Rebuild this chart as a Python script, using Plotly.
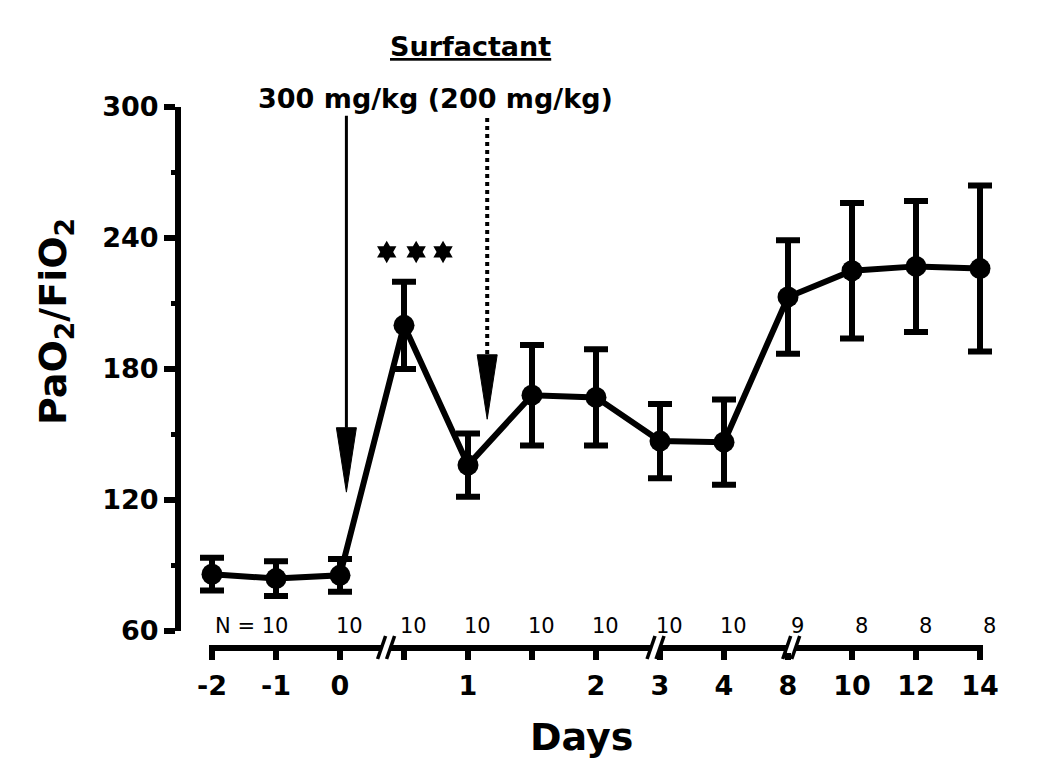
import plotly.graph_objects as go

# ---------------- data ----------------
tick_labels = ["-2", "-1", "0", "", "1", "", "2", "3", "4", "8", "10", "12", "14"]
pao2_fio2 = [86, 84, 85.5, 200, 136, 168, 167, 147, 146.5, 213, 225, 227, 226]
sem = [7.5, 8, 7.5, 20, 14.5, 23, 22, 17, 19.5, 26, 31, 30, 38]
n_labels = ["N = 10", "10", "10", "10", "10", "10", "10", "10", "9", "8", "8", "8"]
n_label_pos = [1, 2, 3, 4, 5, 6, 7, 8, 9, 10, 11, 12]
break_pos = [2.72, 6.93, 9.05]
star_x = [2.73, 3.19, 3.61]
star_y = [233.6, 233.6, 233.6]
arrow_x = [2.1, 4.3]
arrow_top = [296, 295]
arrow_tip = [123.6, 157]
arrow_dash = ["solid", "dot"]

x_idx = list(range(len(tick_labels)))

FONT = "DejaVu Sans"
OFF = 8  # page body margin
W, H = 1037, 773
ML, MR, MT, MB = 170, 35, 99, 133
PW = W - ML - MR
PH = H - MT - MB
PX = 64.0  # pixels per x index
X0 = -(212 - OFF - ML) / PX


def py(px):  # reference pixel y -> paper y
    return (H - MB - (px - OFF)) / PH


def pxx(px):  # reference pixel x -> paper x
    return (px - OFF - ML) / PW


fig = go.Figure()

fig.add_trace(go.Scatter(
    x=x_idx, y=pao2_fio2,
    mode="lines+markers",
    line=dict(color="black", width=6),
    marker=dict(color="black", size=21),
    error_y=dict(type="data", array=sem, visible=True, color="black",
                 thickness=6, width=12),
    cliponaxis=False,
    showlegend=False,
))

fig.add_trace(go.Scatter(
    x=star_x, y=star_y, mode="markers",
    marker=dict(symbol="hexagram", size=17, color="black"),
    cliponaxis=False, showlegend=False,
))

shapes = []
# x axis line from first to last tick
shapes.append(dict(type="line", xref="x", yref="paper", x0=x_idx[0] - 3 / PX, x1=x_idx[-1] + 3 / PX,
                   y0=0, y1=0, line=dict(color="black", width=6), layer="above"))
# arrows
for ax, top, tip, dash in zip(arrow_x, arrow_top, arrow_tip, arrow_dash):
    head_h = 29.5
    half_w = 10 / PX
    shapes.append(dict(type="line", xref="x", yref="y", x0=ax, x1=ax,
                       y0=top, y1=tip + head_h,
                       line=dict(color="black", width=3 if dash == "solid" else 4, dash=dash)))
    shapes.append(dict(type="path", xref="x", yref="y",
                       path=f"M {ax - half_w},{tip + head_h} L {ax + half_w},{tip + head_h} L {ax},{tip} Z",
                       fillcolor="black", line=dict(color="black", width=1)))

# axis breaks "//"
for b in break_pos:
    gap = 9 / PX
    dx = 4 / PX
    shapes.append(dict(type="rect", xref="x", yref="paper",
                       x0=b - gap / 2, x1=b + gap / 2, y0=py(653), y1=py(643),
                       fillcolor="white", line=dict(width=0), layer="above"))
    for s in (-gap / 2, gap / 2):
        shapes.append(dict(type="line", xref="x", yref="paper",
                           x0=b + s - dx, x1=b + s + dx, y0=py(659), y1=py(636),
                           line=dict(color="black", width=3.5), layer="above"))

annotations = []
for lab, pos in zip(n_labels, n_label_pos):
    if lab.startswith("N"):
        annotations.append(dict(x=pos + 0.22, y=py(626), xref="x", yref="paper",
                                text=lab, showarrow=False, xanchor="right", yanchor="middle",
                                font=dict(family=FONT, size=21, color="black")))
    else:
        annotations.append(dict(x=pos + 0.15, y=py(626), xref="x", yref="paper",
                                text=lab, showarrow=False, xanchor="center", yanchor="middle",
                                font=dict(family=FONT, size=21, color="black")))

annotations.append(dict(x=pxx(470), y=py(47), xref="paper", yref="paper",
                        text="<u>Surfactant</u>", showarrow=False,
                        xanchor="center", yanchor="middle",
                        font=dict(family=FONT, size=27, color="black", weight="bold")))
annotations.append(dict(x=pxx(435), y=py(98), xref="paper", yref="paper",
                        text="300 mg/kg (200 mg/kg)", showarrow=False,
                        xanchor="center", yanchor="middle",
                        font=dict(family=FONT, size=27, color="black", weight="bold")))
annotations.append(dict(x=pxx(581), y=py(737), xref="paper", yref="paper",
                        text="Days", showarrow=False,
                        xanchor="center", yanchor="middle",
                        font=dict(family=FONT, size=38, color="black", weight="bold")))
annotations.append(dict(x=pxx(55), y=py(322), xref="paper", yref="paper",
                        text="PaO<sub>2</sub>/FiO<sub>2</sub>", textangle=-90, showarrow=False,
                        xanchor="center", yanchor="middle",
                        font=dict(family=FONT, size=38, color="black", weight="bold")))

fig.update_layout(
    width=W, height=H,
    margin=dict(l=ML, r=MR, t=MT, b=MB, autoexpand=False),
    plot_bgcolor="white", paper_bgcolor="white",
    shapes=shapes, annotations=annotations,
    xaxis=dict(
        domain=[0, 1],
        range=[X0, X0 + PW / PX], anchor="free", position=0,
        showgrid=False, zeroline=False, showline=False,
        ticks="outside", ticklen=11, tickwidth=6, tickcolor="black",
        tickvals=x_idx, ticktext=tick_labels,
        tickfont=dict(family=FONT, size=27, color="black", weight="bold"),
        ticklabelstandoff=3,
    ),
    yaxis=dict(
        domain=[(H - MB - (631 - OFF)) / PH, 1],
        range=[60, 300], anchor="free", position=0,
        showgrid=False, zeroline=False,
        showline=True, linecolor="black", linewidth=6,
        ticks="outside", ticklen=11, tickwidth=6, tickcolor="black",
        tickvals=[60, 120, 180, 240, 300],
        tickfont=dict(family=FONT, size=27, color="black", weight="bold"),
        minor=dict(tickvals=[90, 150, 210, 270], ticks="outside", ticklen=4,
                   tickwidth=5, tickcolor="black"),
    ),
)

fig.write_html("out.html")
